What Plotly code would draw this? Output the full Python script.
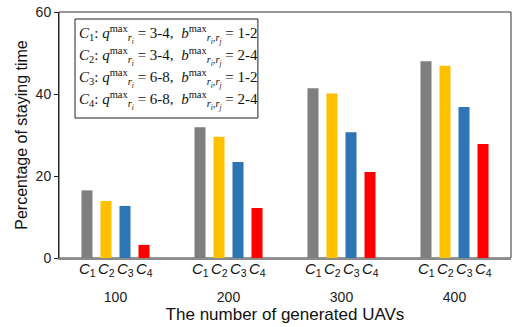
import plotly.graph_objects as go

categories = ["100", "200", "300", "400"]
series_names = ["C1", "C2", "C3", "C4"]
C1 = [16.5, 31.9, 41.4, 48.0]
C2 = [13.9, 29.6, 40.1, 46.9]
C3 = [12.7, 23.4, 30.7, 36.8]
C4 = [3.2, 12.2, 21.0, 27.8]
series_values = [C1, C2, C3, C4]
colors = ["#7F7F7F", "#FFC000", "#2E75B6", "#FF0000"]
legend_lines = [
    ("1", "3-4", "1-2"),
    ("2", "3-4", "2-4"),
    ("3", "6-8", "1-2"),
    ("4", "6-8", "2-4"),
]

fig = go.Figure()
for name, vals, col in zip(series_names, series_values, colors):
    fig.add_trace(go.Bar(x=categories, y=vals, name=name, marker_color=col,
                         marker_line_width=0, showlegend=False))

fig.update_layout(
    width=512, height=327,
    margin=dict(l=59, r=1, t=12, b=69, autoexpand=False),
    plot_bgcolor="white", paper_bgcolor="white",
    barmode="group", bargap=0.327, bargroupgap=0.42,
    font=dict(family="Liberation Sans, Arial", size=14, color="#222"),
)
fig.update_xaxes(
    type="category", automargin=False, range=[-0.5, len(categories) - 0.5],
    showline=True, linecolor="#8C8C8C", linewidth=2, ticks="",
    ticklabelstandoff=25, tickfont=dict(size=14, color="#222"),
    title=dict(text="The number of generated UAVs", font=dict(size=17, color="#111"), standoff=3),
)
fig.update_yaxes(
    automargin=False, ticklabeloverflow="allow",
    range=[0, 60], tickvals=[0, 20, 40, 60], showgrid=False, zeroline=False,
    showline=True, linecolor="#222", linewidth=1, ticks="outside", ticklen=4,
    tickcolor="#222", tickfont=dict(size=14, color="#222"),
    title=dict(text="Percentage of staying time", font=dict(size=16, color="#111"), standoff=4),
)
# frame
fig.add_shape(type="rect", xref="paper", yref="paper", x0=0, x1=1, y0=0, y1=1,
              line=dict(color="#333", width=1), layer="below")

# series labels under bars
for ci, cat in enumerate(categories):
    for i in range(4):
        fig.add_annotation(x=ci, y=0, xref="x", yref="y", xshift=(i - 1.5) * 19, yshift=-11,
                           text=f"<i>C</i><sub>{i+1}</sub>", showarrow=False,
                           font=dict(size=15, color="#111"))

# legend text box
fig.add_shape(type="rect", xref="paper", yref="paper", x0=0.0354, x1=0.44, y0=0.569, y1=0.9715,
              line=dict(color="#222", width=1), fillcolor="white", layer="above")
for k, (c, q, b) in enumerate(legend_lines):
    line = (f"<i>C</i><sub>{c}</sub>: <i>q</i><sup>max</sup><sub><i>r<sub>i</sub></i></sub> = {q},  "
            f"<i>b</i><sup>max</sup><sub><i>r<sub>i</sub>,r<sub>j</sub></i></sub> = {b}")
    fig.add_annotation(x=0.04, y=0.908 - k * 0.0894, xref="paper", yref="paper",
                       xanchor="left", yanchor="middle", text=line, showarrow=False, align="left",
                       font=dict(family="Liberation Serif, DejaVu Serif", size=15, color="#111"))

fig.write_html("out.html", config={"displayModeBar": False},
               post_script="document.body.style.margin='0';")
